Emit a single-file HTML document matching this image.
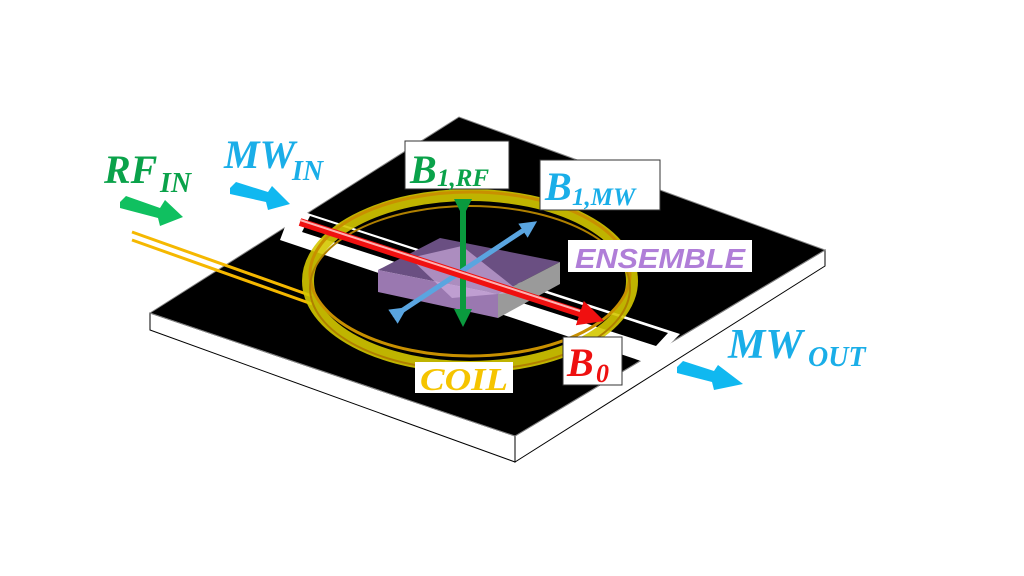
<!DOCTYPE html>
<html><head><meta charset="utf-8"><style>
html,body{margin:0;padding:0;background:#fff;}
svg{display:block}
text{font-family:"Liberation Serif",serif;font-style:italic;font-weight:bold;}
.s{font-family:"Liberation Sans",sans-serif;}
</style></head><body>
<svg width="1024" height="576" viewBox="0 0 1024 576" xmlns="http://www.w3.org/2000/svg">
<defs>
<marker id="ag" markerWidth="3" markerHeight="3" refX="1.5" refY="1.5" orient="auto"><path d="M0,0 L3,1.5 L0,3 Z" fill="#0a9a3e"/></marker>
<marker id="ab" markerWidth="3.4" markerHeight="3.4" refX="1.7" refY="1.7" orient="auto"><path d="M0,0 L3.4,1.7 L0,3.4 Z" fill="#5aa5e0"/></marker>
<marker id="ar" markerWidth="3.2" markerHeight="3.2" refX="1.6" refY="1.6" orient="auto"><path d="M0,0 L3.2,1.6 L0,3.2 Z" fill="#f01010"/></marker>
</defs>
<polygon points="150,313 515,436 515,462 150,330" fill="#fff" stroke="#000" stroke-width="1"/>
<polygon points="515,436 825,250 825,266 515,462" fill="#fff" stroke="#000" stroke-width="1"/>
<polygon points="150,313 459,117 825,250 515,436" fill="#000" stroke="#888" stroke-width="1"/>
<line x1="132" y1="232" x2="312" y2="296" stroke="#f5b800" stroke-width="3"/>
<line x1="132" y1="240" x2="312" y2="304" stroke="#f5b800" stroke-width="3"/>
<polygon points="292,208 680,334 650,364 280,240" fill="#fff"/>
<polygon points="310,216 668,333 656,346 302,232" fill="#000"/>
<ellipse cx="470" cy="281" rx="162" ry="86" fill="none" stroke="#d4c800" stroke-width="12" opacity="0.9"/>
<ellipse cx="470" cy="274" rx="160" ry="82" fill="none" stroke="#c89000" stroke-width="3"/>
<ellipse cx="470" cy="288" rx="160" ry="82" fill="none" stroke="#b08000" stroke-width="2"/>
<polygon points="378,270 440,238 560,262 498,294" fill="#6a4f82"/>
<polygon points="378,270 498,294 498,318 378,292" fill="#9a78b0"/>
<polygon points="498,294 560,262 560,284 498,318" fill="#9a9a9a"/>
<polygon points="410,258 462,246 520,292 452,298" fill="#d8b8e8" opacity="0.6"/>
<line x1="463" y1="208" x2="463" y2="318" stroke="#0a9a3e" stroke-width="6" marker-start="url(#ag)" marker-end="url(#ag)"/>
<line x1="400" y1="312" x2="530" y2="226" stroke="#5aa5e0" stroke-width="5" marker-start="url(#ab)" marker-end="url(#ab)"/>
<line x1="300" y1="222" x2="592" y2="317" stroke="#f01010" stroke-width="8" marker-end="url(#ar)"/>
<line x1="300" y1="220" x2="580" y2="311" stroke="#ffb0b0" stroke-width="2"/>
<rect x="405" y="141" width="104" height="48" fill="#fff" stroke="#333"/>
<text x="410" y="183" font-size="40" fill="#0aa24a">B</text><text x="437" y="186" font-size="25" fill="#0aa24a">1,RF</text>
<rect x="540" y="160" width="120" height="50" fill="#fff" stroke="#333"/>
<text x="545" y="200" font-size="40" fill="#1aaee8">B</text><text x="572" y="205" font-size="25" fill="#1aaee8">1,MW</text>
<rect x="568" y="240" width="184" height="32" fill="#fff"/>
<text class="s" x="575" y="268" font-size="28" font-style="italic" fill="#b07ed8" textLength="170" lengthAdjust="spacingAndGlyphs">ENSEMBLE</text>
<rect x="415" y="362" width="98" height="31" fill="#fff"/>
<text x="420" y="390" font-size="32" fill="#f5c400" textLength="88" lengthAdjust="spacingAndGlyphs">COIL</text>
<rect x="563" y="337" width="59" height="48" fill="#fff" stroke="#333"/>
<text x="567" y="376" font-size="40" fill="#ee1010">B</text><text x="596" y="382" font-size="26" fill="#ee1010">0</text>
<text x="104" y="183" font-size="40" fill="#0aa24a">RF</text><text x="160" y="192" font-size="28" fill="#0aa24a">IN</text>
<text x="224" y="168" font-size="40" fill="#1aaee8">MW</text><text x="292" y="180" font-size="28" fill="#1aaee8">IN</text>
<text x="728" y="358" font-size="42" fill="#1aaee8">MW</text><text x="808" y="366" font-size="28" fill="#1aaee8">OUT</text>
<polygon points="120,202 126,196 160,208 165,200 183,217 160,226 158,218 120,208" fill="#10c060"/>
<polygon points="230,188 236,182 268,192 272,186 290,204 268,210 266,202 230,194" fill="#10b8f0"/>
<polygon points="677,367 683,361 714,371 718,365 743,384 714,390 712,382 677,373" fill="#10b8f0"/>
</svg>
</body></html>
